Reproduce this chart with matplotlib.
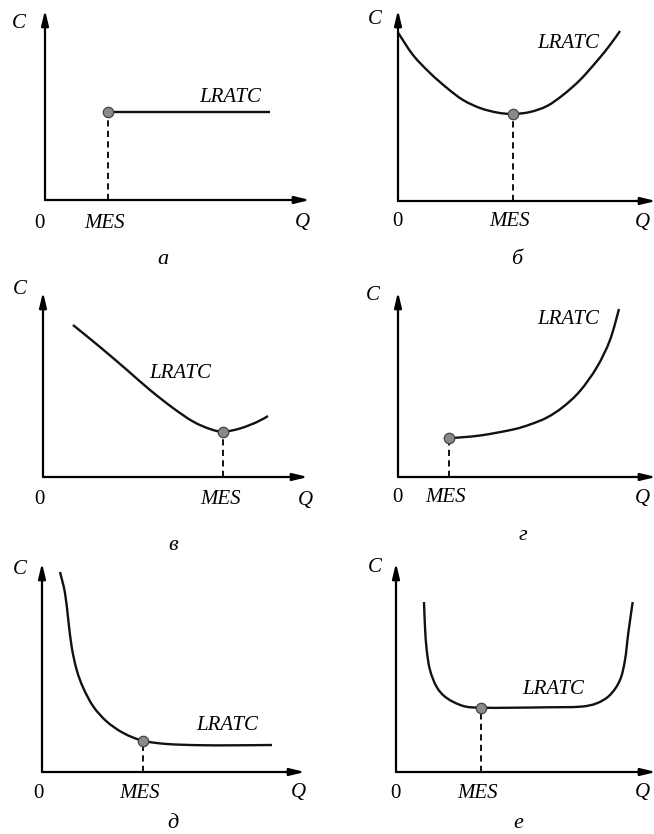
import matplotlib
matplotlib.use("Agg")
import matplotlib.pyplot as plt
from matplotlib.path import Path
from matplotlib.patches import PathPatch

plt.rcParams["font.family"] = ["Liberation Serif", "DejaVu Serif"]

W, H = 654, 834

# Panel frames in figure pixels: origin x, origin y, x-arrow tip, y-arrow tip
frames = {
    "а": (45, 200, 310, 10),
    "б": (398, 201, 656, 10),
    "в": (43, 477, 308, 292),
    "г": (398, 477, 656, 292),
    "д": (42, 772, 305, 563),
    "е": (396, 772, 656, 563),
}

# LRATC curves (Q, C) in panel units
curve_a_q = [63, 225]
curve_a_c = [88, 88]

curve_b_q = [0.3, 15, 32, 49, 65, 82, 99, 114.7, 132, 149, 165, 182, 199, 212, 222]
curve_b_c = [168, 146, 128, 113, 101, 93, 88.5, 87, 89, 95, 106, 121, 140, 156, 170]

curve_v_q = [30, 57, 84, 107, 130, 150, 167, 180.3, 197, 214, 225]
curve_v_c = [152, 130, 107, 87, 69, 55.5, 48, 45.3, 48.5, 55, 61]

curve_g_q = [51, 82, 115, 132, 149, 165, 182, 199, 212, 221]
curve_g_c = [38.7, 41.5, 47.5, 52.5, 59.5, 70, 86, 110, 137, 168]

curve_d_q = [18, 23, 26.3, 29.7, 34.7, 41.3, 51.3, 64.7, 81.3, 100.7, 125, 158, 191, 230]
curve_d_c = [200, 179, 152, 125, 102, 84, 65.5, 50.5, 39, 31.3, 28, 26.8, 26.7, 27]

curve_e_q = [28, 29, 30.7, 34, 40.7, 50.7, 67.3, 85, 117, 151, 184, 200.7, 214, 224, 229, 232.3, 236.7]
curve_e_c = [170, 145, 122, 102, 85, 74, 66, 64.3, 64.3, 64.7, 65.3, 68.7, 77, 92, 112, 139, 170]

# Minimum efficient scale points (Q, C)
mes_points = {
    "а": (63, 88),
    "б": (114.7, 87),
    "в": (180.3, 45.3),
    "г": (51, 38.7),
    "д": (100.7, 31.3),
    "е": (85, 64.3),
}

curves = {
    "а": (curve_a_q, curve_a_c),
    "б": (curve_b_q, curve_b_c),
    "в": (curve_v_q, curve_v_c),
    "г": (curve_g_q, curve_g_c),
    "д": (curve_d_q, curve_d_c),
    "е": (curve_e_q, curve_e_c),
}

# Label positions relative to each origin: C, 0, MES (y), Q, panel letter, LRATC
labels = {
    "а": dict(C=(-26, 176), zero=(-6, -23), mes_y=-23, Q=(257, -23), letter=(118, -60), lr=(185, 102)),
    "б": dict(C=(-23, 181), zero=(-1, -21), mes_y=-21, Q=(244, -21), letter=(119, -59), lr=(170, 158)),
    "в": dict(C=(-23, 187), zero=(-4, -23), mes_y=-23, Q=(262, -23), letter=(130, -68), lr=(137, 103)),
    "г": dict(C=(-25, 182), zero=(-1, -21), mes_y=-21, Q=(244, -21), letter=(125, -58), lr=(170, 157)),
    "д": dict(C=(-22, 203), zero=(-4, -21), mes_y=-21, Q=(256, -21), letter=(131, -51), lr=(185, 47)),
    "е": dict(C=(-21, 204), zero=(-1, -21), mes_y=-21, Q=(246, -21), letter=(122, -51), lr=(157, 83)),
}


def smooth_path(xs, ys):
    """Cubic Bezier path passing through every given point (Catmull-Rom tangents)."""
    pts = list(zip(xs, ys))
    if len(pts) < 3:
        return Path(pts, [Path.MOVETO] + [Path.LINETO] * (len(pts) - 1))
    verts = [pts[0]]
    codes = [Path.MOVETO]
    n = len(pts)
    for i in range(n - 1):
        p0 = pts[max(i - 1, 0)]
        p1 = pts[i]
        p2 = pts[i + 1]
        p3 = pts[min(i + 2, n - 1)]
        c1 = (p1[0] + (p2[0] - p0[0]) / 6, p1[1] + (p2[1] - p0[1]) / 6)
        c2 = (p2[0] - (p3[0] - p1[0]) / 6, p2[1] - (p3[1] - p1[1]) / 6)
        verts += [c1, c2, p2]
        codes += [Path.CURVE4] * 3
    return Path(verts, codes)


FS = 15
ital = dict(fontstyle="italic", fontsize=FS, ha="center", va="center", clip_on=False)

fig = plt.figure(figsize=(W / 100, H / 100), dpi=100)
fig.patch.set_facecolor("white")

for key, (ox, oy, xt, yt) in frames.items():
    w, h = xt - ox, oy - yt
    ax = fig.add_axes([ox / W, 1 - oy / H, w / W, h / H])
    ax.set_xlim(0, w)
    ax.set_ylim(0, h)
    ax.axis("off")

    arrow = dict(arrowstyle="-|>,head_length=0.75,head_width=0.18", color="black",
                 lw=1.6, shrinkA=0, shrinkB=0, mutation_scale=12)
    ax.annotate("", xy=(1, 0), xytext=(0, 0), xycoords="axes fraction",
                arrowprops=arrow, annotation_clip=False)
    ax.annotate("", xy=(0, 1), xytext=(0, 0), xycoords="axes fraction",
                arrowprops=arrow, annotation_clip=False)

    q, c = curves[key]
    ax.add_patch(PathPatch(smooth_path(q, c), fill=False, edgecolor="#111111",
                           lw=1.7, capstyle="butt", clip_on=False))

    mq, mc = mes_points[key]
    ax.plot([mq, mq], [0, mc], color="#111111", lw=1.4, dashes=(3.2, 2.2), clip_on=False)
    ax.plot([mq], [mc], marker="o", ms=7.5, mfc="#8a8a8a", mec="#444444", mew=0.9,
            clip_on=False, zorder=5)

    lb = labels[key]
    ax.text(*lb["C"], "C", **ital)
    ax.text(*lb["zero"], "0", fontsize=FS, ha="center", va="center", clip_on=False)
    ax.text(mq - 3, lb["mes_y"], "MES", **ital)
    ax.text(*lb["Q"], "Q", **ital)
    ax.text(*lb["lr"], "LRATC", **ital)
    ax.text(*lb["letter"], key, fontstyle="italic", fontsize=FS + 1, ha="center",
            va="center", clip_on=False)

fig.savefig("out.png", dpi=100, facecolor="white")
